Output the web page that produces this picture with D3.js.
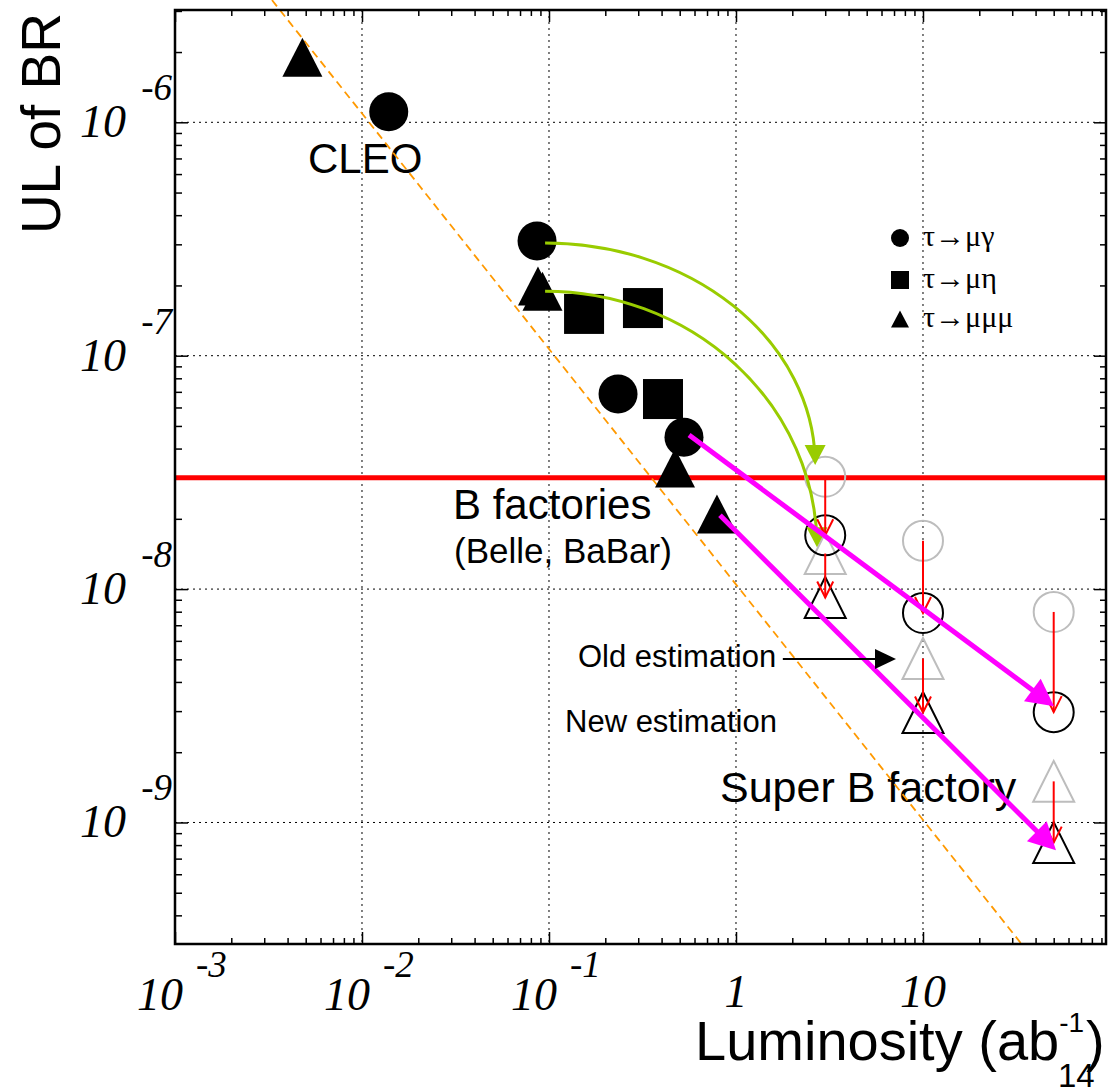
<!DOCTYPE html>
<html>
<head>
<meta charset="utf-8">
<script src="https://cdn.jsdelivr.net/npm/d3@7"></script>
<style>
  body { margin: 0; background: #fff; }
  text { font-family: "Liberation Sans", Arial, Helvetica, sans-serif; fill: #000; }
  .tick-label { font-family: "Liberation Serif", "Times New Roman", serif; font-style: italic; }
</style>
</head>
<body>
<div id="chart"></div>
<script>
// ---- data ----
const xDomain = [1e-3, 95.2];
const yDomain = [3.015e-10, 3.028e-6];

const xMajor = [1e-3, 1e-2, 1e-1, 1, 10];
const xTickBase = ["10", "10", "10", "1", "10"];
const xTickExp = ["-3", "-2", "-1", "", ""];
const yMajor = [1e-6, 1e-7, 1e-8, 1e-9];
const yTickExp = ["-6", "-7", "-8", "-9"];

// measured upper limits (filled markers)
const muGammaL = [0.0139, 0.0863, 0.234, 0.527];
const muGammaBR = [1.11e-6, 3.10e-7, 6.85e-8, 4.47e-8];
const muEtaL = [0.154, 0.318, 0.407];
const muEtaBR = [1.51e-7, 1.60e-7, 6.52e-8];
const muMuMuL = [0.0048, 0.0873, 0.0923, 0.472, 0.791];
const muMuMuBR = [1.9e-6, 1.99e-7, 1.89e-7, 3.30e-8, 2.10e-8];

// Super B expectations (open markers)
const superL = [3, 10, 50];
const oldGammaBR = [3.03e-8, 1.61e-8, 7.98e-9];
const newGammaBR = [1.70e-8, 7.9e-9, 2.97e-9];
const oldMuMuMuBR = [1.42e-8, 5.04e-9, 1.5e-9];
const newMuMuMuBR = [9.2e-9, 2.96e-9, 8.2e-10];

// lines and arrows
const bFactoryLimit = 3.0e-8;
const naiveL = [0.0033, 33.7];
const naiveBR = [3.34e-6, 3.01e-10];
const extrapFromL = [0.561, 0.821];
const extrapFromBR = [4.57e-8, 2.07e-8];
const extrapToL = [50.2, 51.4];
const extrapToBR = [3.15e-9, 7.6e-10];
const arcFromL = [0.0953, 0.0953];
const arcFromBR = [3.04e-7, 1.89e-7];
const arcToL = [2.65, 2.71];
const arcToBR = [3.4e-8, 1.51e-8];
const oldArrowL = [1.78, 7.17];
const oldArrowBR = 5.02e-9;

const legendLabels = ["τ→μγ", "τ→μη", "τ→μμμ"];
const legendShapes = ["circle", "square", "triangle"];

// ---- layout ----
const width = 1110, height = 1090;
const pLeft = 175, pRight = 1106, pTop = 10, pBottom = 944;

const x = d3.scaleLog().domain(xDomain).range([pLeft, pRight]);
const y = d3.scaleLog().domain(yDomain).range([pBottom, pTop]);

const svg = d3.select("#chart").append("svg")
    .attr("width", width)
    .attr("height", height)
    .style("background", "#fff");

function logTicks(domain, minor) {
    const out = [];
    for (let e = -12; e <= 3; e++) {
        for (let m = minor ? 2 : 1; m <= (minor ? 9 : 1); m++) {
            const v = m * Math.pow(10, e);
            if (v >= domain[0] * 0.999 && v <= domain[1] * 1.001) out.push(v);
        }
    }
    return out;
}

function tri(cx, cy, w, h) {
    return `M${cx},${cy - h / 2}L${cx + w / 2},${cy + h / 2}L${cx - w / 2},${cy + h / 2}Z`;
}

// arrow head polygon with tip at (x2,y2) pointing along (x1,y1)->(x2,y2)
function head(x1, y1, x2, y2, len, w) {
    const a = Math.atan2(y2 - y1, x2 - x1);
    const bx = x2 - len * Math.cos(a), by = y2 - len * Math.sin(a);
    const px = -Math.sin(a) * w / 2, py = Math.cos(a) * w / 2;
    return `M${x2},${y2}L${bx + px},${by + py}L${bx - px},${by - py}Z`;
}

// grid
const grid = svg.append("g")
    .attr("stroke", "#000")
    .attr("stroke-width", 1)
    .attr("stroke-dasharray", "2,4");
grid.selectAll("line.gx")
    .data(xMajor.slice(1))
    .enter().append("line")
    .attr("x1", d => x(d)).attr("x2", d => x(d))
    .attr("y1", pTop).attr("y2", pBottom);
grid.selectAll("line.gy")
    .data(yMajor)
    .enter().append("line")
    .attr("x1", pLeft).attr("x2", pRight)
    .attr("y1", d => y(d)).attr("y2", d => y(d));

// ticks on all four sides, pointing inward
const xMinor = logTicks(xDomain, true), yMinor = logTicks(yDomain, true);
const xMaj = logTicks(xDomain, false), yMaj = logTicks(yDomain, false);
function tickAxis(axis, tr) {
    svg.append("g")
        .attr("transform", tr)
        .call(axis.tickFormat("").tickSizeOuter(0))
        .call(g => g.select(".domain").remove())
        .call(g => g.selectAll("line").attr("stroke-width", 1.5));
}
tickAxis(d3.axisBottom(x).tickValues(xMinor).tickSize(-6), `translate(0,${pBottom})`);
tickAxis(d3.axisBottom(x).tickValues(xMaj).tickSize(-12), `translate(0,${pBottom})`);
tickAxis(d3.axisTop(x).tickValues(xMinor).tickSize(-6), `translate(0,${pTop})`);
tickAxis(d3.axisTop(x).tickValues(xMaj).tickSize(-12), `translate(0,${pTop})`);
tickAxis(d3.axisLeft(y).tickValues(yMinor).tickSize(-7), `translate(${pLeft},0)`);
tickAxis(d3.axisLeft(y).tickValues(yMaj).tickSize(-13), `translate(${pLeft},0)`);
tickAxis(d3.axisRight(y).tickValues(yMinor).tickSize(-6), `translate(${pRight},0)`);
tickAxis(d3.axisRight(y).tickValues(yMaj).tickSize(-12), `translate(${pRight},0)`);

// tick labels
xMajor.forEach((v, i) => {
    if (xTickExp[i]) {
        svg.append("text").attr("class", "tick-label")
            .attr("x", x(v) + 8).attr("y", 1010)
            .attr("text-anchor", "end").style("font-size", "46px")
            .text(xTickBase[i]);
        svg.append("text").attr("class", "tick-label")
            .attr("x", x(v) + 21).attr("y", 977)
            .attr("text-anchor", "start").style("font-size", "37px")
            .text(xTickExp[i]);
    } else {
        svg.append("text").attr("class", "tick-label")
            .attr("x", x(v)).attr("y", 1007)
            .attr("text-anchor", "middle").style("font-size", "46px")
            .text(xTickBase[i]);
    }
});
yMajor.forEach((v, i) => {
    svg.append("text").attr("class", "tick-label")
        .attr("x", 126).attr("y", y(v) + 15)
        .attr("text-anchor", "end").style("font-size", "46px")
        .text("10");
    svg.append("text").attr("class", "tick-label")
        .attr("x", 172).attr("y", y(v) - 22)
        .attr("text-anchor", "end").style("font-size", "37px")
        .text(yTickExp[i]);
});

// axis titles
svg.append("text")
    .attr("transform", "translate(60,13) rotate(-90)")
    .attr("text-anchor", "end")
    .style("font-size", "55px")
    .text("UL of BR");

const xt = svg.append("text")
    .attr("x", 695).attr("y", 1060)
    .style("font-size", "56px")
    .text("Luminosity (ab");
xt.append("tspan").attr("dy", -28).style("font-size", "28px").text("-1");
xt.append("tspan").attr("dy", 28).attr("dx", 2).style("font-size", "56px").text(")");
svg.append("text")
    .attr("x", 1058).attr("y", 1087)
    .style("font-size", "33px")
    .text("14");

// annotations
const notes = [
    { t: "CLEO", x: 308, y: 173, s: 42 },
    { t: "B factories", x: 453, y: 519, s: 42 },
    { t: "(Belle, BaBar)", x: 454, y: 563, s: 35 },
    { t: "Old estimation", x: 578, y: 667, s: 31 },
    { t: "New estimation", x: 565, y: 732, s: 31 },
    { t: "Super B factory", x: 720, y: 802, s: 43 }
];
svg.selectAll("text.note")
    .data(notes)
    .enter().append("text")
    .attr("class", "note")
    .attr("x", d => d.x).attr("y", d => d.y)
    .style("font-size", d => d.s + "px")
    .text(d => d.t);

// B factory limit line
svg.append("line")
    .attr("x1", pLeft).attr("x2", pRight)
    .attr("y1", y(bFactoryLimit)).attr("y2", y(bFactoryLimit))
    .attr("stroke", "#ff0000").attr("stroke-width", 5);

// 1/L scaling line
svg.append("line")
    .attr("x1", x(naiveL[0])).attr("y1", y(naiveBR[0]))
    .attr("x2", x(naiveL[1])).attr("y2", y(naiveBR[1]))
    .attr("stroke", "#ff9900").attr("stroke-width", 1.8)
    .attr("stroke-dasharray", "8,5");

// open markers: old (grey) and new (black) estimations
const openG = svg.append("g").attr("fill", "none").attr("stroke-width", 2);
function openCircles(vals, color) {
    openG.selectAll(null)
        .data(vals)
        .enter().append("circle")
        .attr("cx", (d, i) => x(superL[i])).attr("cy", d => y(d))
        .attr("r", 20).attr("stroke", color);
}
function openTriangles(vals, color) {
    openG.selectAll(null)
        .data(vals)
        .enter().append("path")
        .attr("d", (d, i) => tri(x(superL[i]), y(d), 41, 41))
        .attr("stroke", color);
}
openCircles(oldGammaBR, "#bdbdbd");
openTriangles(oldMuMuMuBR, "#bdbdbd");
openCircles(newGammaBR, "#000");
openTriangles(newMuMuMuBR, "#000");

// filled markers
svg.selectAll("circle.mg")
    .data(muGammaL)
    .enter().append("circle")
    .attr("cx", d => x(d)).attr("cy", (d, i) => y(muGammaBR[i]))
    .attr("r", 19.5).attr("fill", "#000");
svg.selectAll("rect.me")
    .data(muEtaL)
    .enter().append("rect")
    .attr("x", d => x(d) - 20).attr("y", (d, i) => y(muEtaBR[i]) - 20)
    .attr("width", 40).attr("height", 40).attr("fill", "#000");
svg.selectAll("path.mmm")
    .data(muMuMuL)
    .enter().append("path")
    .attr("d", (d, i) => tri(x(d), y(muMuMuBR[i]), 40, 39))
    .attr("fill", "#000");

// green curved arrows (old -> new assumption)
arcFromL.forEach((d, i) => {
    const sx = x(d), sy = y(arcFromBR[i]);
    const ex = x(arcToL[i]), ey = y(arcToBR[i]);
    svg.append("path")
        .attr("d", `M${sx},${sy}A${ex - sx},${ey - sy} 0 0 1 ${ex},${ey - 6}`)
        .attr("fill", "none").attr("stroke", "#99cc00").attr("stroke-width", 3);
    svg.append("path")
        .attr("d", head(ex, ey - 30, ex, ey, 20, 21))
        .attr("fill", "#99cc00");
});

// red down arrows from old to new
const redG = svg.append("g").attr("stroke", "#ff0000").attr("stroke-width", 2).attr("fill", "none");
function redArrows(from, to) {
    from.forEach((d, i) => {
        const cx = x(superL[i]), y1 = y(d), y2 = y(to[i]);
        redG.append("line").attr("x1", cx).attr("x2", cx).attr("y1", y1).attr("y2", y2);
        redG.append("path").attr("d", `M${cx - 8},${y2 - 16}L${cx},${y2}L${cx + 8},${y2 - 16}`);
    });
}
redArrows(oldGammaBR, newGammaBR);
redArrows(oldMuMuMuBR, newMuMuMuBR);

// magenta extrapolation arrows
extrapFromL.forEach((d, i) => {
    const x1 = x(d), y1 = y(extrapFromBR[i]);
    const x2 = x(extrapToL[i]), y2 = y(extrapToBR[i]);
    const a = Math.atan2(y2 - y1, x2 - x1);
    svg.append("line")
        .attr("x1", x1).attr("y1", y1)
        .attr("x2", x2 - 12 * Math.cos(a)).attr("y2", y2 - 12 * Math.sin(a))
        .attr("stroke", "#ff00ff").attr("stroke-width", 5);
    svg.append("path")
        .attr("d", head(x1, y1, x2, y2, 27, 28))
        .attr("fill", "#ff00ff");
});

// "Old estimation" pointer
{
    const x1 = x(oldArrowL[0]), x2 = x(oldArrowL[1]), yy = y(oldArrowBR);
    svg.append("line")
        .attr("x1", x1).attr("x2", x2 - 10).attr("y1", yy).attr("y2", yy)
        .attr("stroke", "#000").attr("stroke-width", 2);
    svg.append("path")
        .attr("d", head(x1, yy, x2, yy, 21, 20))
        .attr("fill", "#000");
}

// legend
const legendY = [238, 280, 319];
legendLabels.forEach((lab, i) => {
    const cx = 900, cy = legendY[i];
    if (legendShapes[i] === "circle") {
        svg.append("circle").attr("cx", cx).attr("cy", cy).attr("r", 9).attr("fill", "#000");
    } else if (legendShapes[i] === "square") {
        svg.append("rect").attr("x", cx - 9).attr("y", cy - 9).attr("width", 18).attr("height", 18).attr("fill", "#000");
    } else {
        svg.append("path").attr("d", tri(cx, cy, 18, 17)).attr("fill", "#000");
    }
    svg.append("text")
        .attr("x", 923).attr("y", cy + 8)
        .style("font-family", "'Liberation Serif', 'DejaVu Serif', serif")
        .style("font-size", "30px")
        .text(lab);
});

// frame
svg.append("rect")
    .attr("x", pLeft).attr("y", pTop)
    .attr("width", pRight - pLeft).attr("height", pBottom - pTop)
    .attr("fill", "none").attr("stroke", "#000").attr("stroke-width", 2.5);
</script>
</body>
</html>
